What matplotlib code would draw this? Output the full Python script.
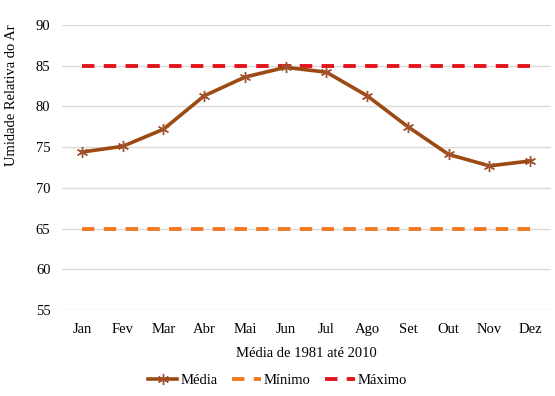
import matplotlib
matplotlib.use("Agg")
import matplotlib.pyplot as plt

plt.rcParams['font.family'] = ['Liberation Serif', 'DejaVu Serif']

meses = ['Jan', 'Fev', 'Mar', 'Abr', 'Mai', 'Jun', 'Jul', 'Ago', 'Set', 'Out', 'Nov', 'Dez']
media = [74.4, 75.1, 77.2, 81.3, 83.6, 84.8, 84.2, 81.3, 77.5, 74.1, 72.7, 73.3]
minimo = [65] * 12
maximo = [85] * 12
yticks = [55, 60, 65, 70, 75, 80, 85, 90]

fig = plt.figure(figsize=(5.55, 3.96), dpi=100)
ax = fig.add_axes([0.111, 0.217, 0.881, 0.72])

x = list(range(len(meses)))
ax.plot(x, media, color='#9C4A12', lw=2.6, marker=(6, 2, 0), ms=8,
        mew=1.0, mec='#A0522D', label='Média', zorder=4)
ax.plot(x, minimo, color='#F07A22', lw=2.8, dashes=(3.2, 2.4),
        label='Mínimo', zorder=3)
ax.plot(x, maximo, color='#E3141B', lw=2.8, dashes=(3.2, 2.4),
        label='Máximo', zorder=3)

ax.set_xlim(-0.5, 11.5)
ax.set_ylim(55, 90)
ax.set_yticks(yticks)
ax.set_xticks(x)
ax.set_xticklabels(meses)
ax.grid(axis='y', color='#D9D9D9', lw=1.0)
ax.set_axisbelow(True)
for s in ax.spines.values():
    s.set_visible(False)
ax.tick_params(length=0, labelsize=10.5, colors='black')
ax.tick_params(axis='x', pad=9)
ax.tick_params(axis='y', pad=8)

ax.set_xlabel('Média de 1981 até 2010', fontsize=10.5, labelpad=8)
ax.set_ylabel('Umidade Relativa do Ar', fontsize=10.5, labelpad=6)
ax.yaxis.set_label_coords(-0.09, 0.755)

fig.legend(loc='center', bbox_to_anchor=(0.5, 0.04), ncol=3, frameon=False,
           fontsize=10.5, handlelength=2.0, columnspacing=1.0, handletextpad=0.2)

fig.savefig('out.png', dpi=100)
